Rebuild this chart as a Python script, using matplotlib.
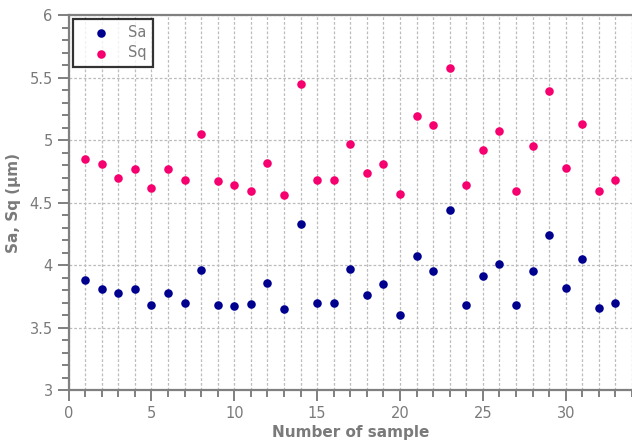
import matplotlib
matplotlib.use("Agg")
import matplotlib.pyplot as plt
from matplotlib.ticker import MultipleLocator

samples = list(range(1, 34))
sa = [3.88, 3.81, 3.78, 3.81, 3.68, 3.78, 3.70, 3.96, 3.68, 3.67, 3.69,
      3.86, 3.65, 4.33, 3.70, 3.70, 3.97, 3.76, 3.85, 3.60, 4.07, 3.95,
      4.44, 3.68, 3.91, 4.01, 3.68, 3.95, 4.24, 3.82, 4.05, 3.66, 3.70]
sq = [4.85, 4.81, 4.70, 4.77, 4.62, 4.77, 4.68, 5.05, 4.67, 4.64, 4.59,
      4.82, 4.56, 5.45, 4.68, 4.68, 4.97, 4.74, 4.81, 4.57, 5.19, 5.12,
      5.58, 4.64, 4.92, 5.07, 4.59, 4.95, 5.39, 4.78, 5.13, 4.59, 4.68]

gray = "#7a7a7a"
spine_gray = "#808080"
fig = plt.figure(figsize=(6.32, 4.44), dpi=100)
ax = fig.add_axes([0.1085, 0.1216, 0.8915, 0.8446])

ax.scatter(samples, sa, s=38, color="#00008f", label="Sa", zorder=3, linewidths=0)
ax.scatter(samples, sq, s=38, color="#f5006e", label="Sq", zorder=3, linewidths=0)

ax.set_xlim(0, 34)
ax.set_ylim(3, 6)
ax.xaxis.set_major_locator(MultipleLocator(5))
ax.xaxis.set_minor_locator(MultipleLocator(1))
ax.yaxis.set_minor_locator(MultipleLocator(0.1))
ax.set_yticks([3, 3.5, 4, 4.5, 5, 5.5, 6])
ax.set_yticklabels(["3", "3.5", "4", "4.5", "5", "5.5", "6"])

gstyle = dict(color="#bcbcbc", linestyle=(0, (2.2, 1.6)), linewidth=0.9)
ax.grid(True, which="minor", axis="x", **gstyle)
ax.grid(True, which="major", axis="x", **gstyle)
ax.grid(True, which="major", axis="y", **gstyle)
ax.set_axisbelow(True)

for side in ["left", "bottom", "top"]:
    ax.spines[side].set_color(spine_gray)
    ax.spines[side].set_linewidth(1.6)
ax.spines["right"].set_visible(False)

ax.tick_params(which="major", direction="out", length=8, width=1.4, color=spine_gray,
               labelcolor=gray, labelsize=10.5)
ax.tick_params(which="minor", direction="out", length=5, width=1.4, color=spine_gray)
ax.tick_params(axis="y", which="both", right=False)
ax.tick_params(axis="x", which="both", top=False)

ax.set_xlabel("Number of sample", fontsize=11, fontweight="bold", color=gray, labelpad=3)
ax.set_ylabel("Sa, Sq (µm)", fontsize=11, fontweight="bold", color=gray, labelpad=6)

leg = ax.legend(loc="upper left", bbox_to_anchor=(0.008, 0.99), frameon=True, fancybox=False,
                edgecolor="black", fontsize=10.5, handletextpad=0.4, borderpad=0.45,
                labelspacing=0.35, borderaxespad=0.0, handlelength=2.9)
leg.get_frame().set_linewidth(1.6)
for t in leg.get_texts():
    t.set_color(gray)

fig.savefig("out.png", dpi=100)
